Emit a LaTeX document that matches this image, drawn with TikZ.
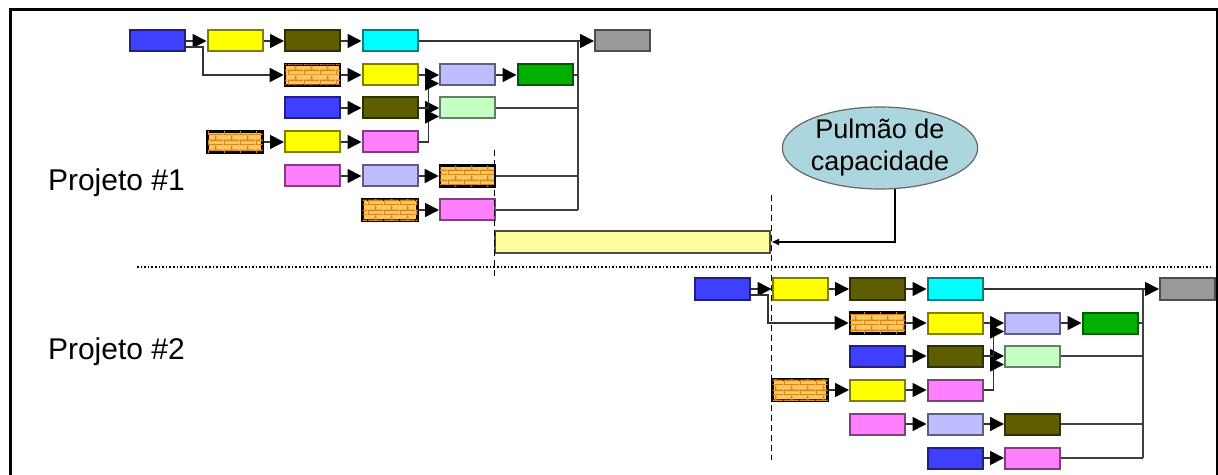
\documentclass[tikz,border=0pt]{standalone}
\usepackage{fontspec}
\setmainfont{Liberation Sans}
\usetikzlibrary{arrows.meta, positioning, shapes.geometric, patterns.meta}
\definecolor{azulc}{HTML}{3F3FFF}
\definecolor{amarelo}{HTML}{FFFF00}
\definecolor{oliva}{HTML}{5E5E00}
\definecolor{ciano}{HTML}{00FFFF}
\definecolor{cinza}{HTML}{999999}
\definecolor{lavanda}{HTML}{BDBDFF}
\definecolor{verde}{HTML}{00B000}
\definecolor{verdeclaro}{HTML}{C4FFC4}
\definecolor{rosa}{HTML}{FF80FF}
\definecolor{tijolofundo}{HTML}{F9C862}
\definecolor{tijololinha}{HTML}{D8861A}
\definecolor{pulmaofundo}{HTML}{FFFF9E}
\definecolor{nuvem}{HTML}{ACD6DE}
\tikzdeclarepattern{
  name=ladrilhos, type=uncolored,
  bottom left={(0pt,0pt)}, top right={(8pt,5pt)}, tile size={(8pt,5pt)},
  code={
    \draw[line width=0.8pt] (0pt,0pt) -- (8pt,0pt) (0pt,2.5pt) -- (8pt,2.5pt)
      (0pt,0pt) -- (0pt,2.5pt) (4pt,2.5pt) -- (4pt,5pt);
  }
}
\tikzset{
  tarefa/.style={draw=#1!50!black, fill=#1, line width=1pt, inner sep=0pt,
                 minimum width=27.5pt, minimum height=10.5pt},
  t-azul/.style={tarefa=azulc},
  t-amarelo/.style={tarefa=amarelo},
  t-oliva/.style={tarefa=oliva},
  t-ciano/.style={tarefa=ciano},
  t-cinza/.style={tarefa=cinza},
  t-lavanda/.style={tarefa=lavanda},
  t-verde/.style={tarefa=verde},
  t-verdeclaro/.style={tarefa=verdeclaro},
  t-rosa/.style={tarefa=rosa},
  tijolo/.style={tarefa=tijolofundo, draw=black, line width=1.3pt,
                 postaction={pattern=ladrilhos, pattern color=tijololinha}},
  seta/.style={-{Triangle[length=7pt, width=7pt, color=black]}, line width=0.8pt, black!80},
  linha/.style={line width=0.8pt, black!75},
  tracejado/.style={line width=0.5pt, dash pattern=on 3pt off 2pt},
  pontilhado/.style={line width=1pt, dash pattern=on 0.8pt off 1pt},
}
\begin{document}
\begin{tikzpicture}[x=0.5pt, y=-0.5pt]
  \useasboundingbox (0,0) rectangle (1218,475);
  \draw[line width=1.5pt] (10,480) -- (10,10) -- (1217,10) -- (1217,480);

  \foreach \p/\dx/\dy/\ca/\cb in {a/0/0/tijolo/tijolo, b/565/248/t-oliva/t-azul} {
    \begin{scope}[shift={(\dx,\dy)}]
      \coordinate (\p-bus) at (578,0);
      % linha 1
      \node[t-azul] (\p-1-0) at (157.5,41) {};
      \node[t-amarelo] (\p-1-1) at (235,41) {};
      \node[t-oliva] (\p-1-2) at (312.5,41) {};
      \node[t-ciano] (\p-1-3) at (390,41) {};
      \node[t-cinza] (\p-1-6) at (622.5,41) {};
      % linha 2
      \node[tijolo] (\p-2-2) at (312.5,75) {};
      \node[t-amarelo] (\p-2-3) at (390,75) {};
      \node[t-lavanda] (\p-2-4) at (467.5,75) {};
      \node[t-verde] (\p-2-5) at (545,75) {};
      % linha 3
      \node[t-azul] (\p-3-2) at (312.5,108) {};
      \node[t-oliva] (\p-3-3) at (390,108) {};
      \node[t-verdeclaro] (\p-3-4) at (467.5,108) {};
      % linha 4
      \node[tijolo] (\p-4-1) at (235,142) {};
      \node[t-amarelo] (\p-4-2) at (312.5,142) {};
      \node[t-rosa] (\p-4-3) at (390,142) {};
      % linha 5
      \node[t-rosa] (\p-5-2) at (312.5,176) {};
      \node[t-lavanda] (\p-5-3) at (390,176) {};
      \node[\ca] (\p-5-4) at (467.5,176) {};
      % linha 6
      \node[\cb] (\p-6-3) at (390,210) {};
      \node[t-rosa] (\p-6-4) at (467.5,210) {};

      \foreach \u/\v in {1-0/1-1, 1-1/1-2, 1-2/1-3, 2-2/2-3, 2-3/2-4, 2-4/2-5,
                         3-2/3-3, 3-3/3-4, 4-1/4-2, 4-2/4-3, 5-2/5-3, 5-3/5-4, 6-3/6-4}
        \draw[seta] (\p-\u) -- (\p-\v);
      \draw[seta] (\p-1-3) -- (\p-1-6);
      \draw[seta] ([yshift=-3pt]\p-1-0.east) -- ++(8.5pt,0) |- (\p-2-2.west);
      \draw[seta] (\p-3-3.east) -- ++(5pt,0) |- ([yshift=1.5pt]\p-2-4.south west);
      \draw[seta] (\p-4-3.east) -- ++(5pt,0) |- ([yshift=1.5pt]\p-3-4.south west);
      \foreach \u in {2-5, 3-4, 5-4, 6-4}
        \draw[linha] (\p-\u.east) -- (\p-\u.east -| \p-bus);
      \draw[linha] (\p-1-3.east -| \p-bus) -- (\p-6-4.east -| \p-bus);
    \end{scope}
  }

  \node[draw=black!70, fill=pulmaofundo, line width=1pt, inner sep=0pt,
        minimum width=137.5pt, minimum height=11pt] (buf) at (632.5,242) {};
  \node[ellipse, draw=black!60, fill=nuvem, line width=0.6pt, inner sep=0pt,
        minimum width=90pt, minimum height=41pt, align=center,
        font=\fontsize{13.5}{16}\selectfont] (pulm) at (880,148) {Pulmão de\\capacidade};
  \draw[line width=0.8pt, -{Latex[length=4pt, width=3.5pt]}] (pulm.-70) |- (buf.east);

  \draw[tracejado] (buf.west |- 0,150) -- (buf.west |- 0,277);
  \draw[tracejado] (buf.east |- 0,195) -- (buf.east |- 0,460);
  \draw[pontilhado] (137,267) -- (1210,267);

  \node[anchor=west, font=\fontsize{15}{18}\selectfont] (p1) at (41,183) {Projeto \#1};
  \node[anchor=west, font=\fontsize{15}{18}\selectfont] (p2) at (41,352) {Projeto \#2};
\end{tikzpicture}
\end{document}
